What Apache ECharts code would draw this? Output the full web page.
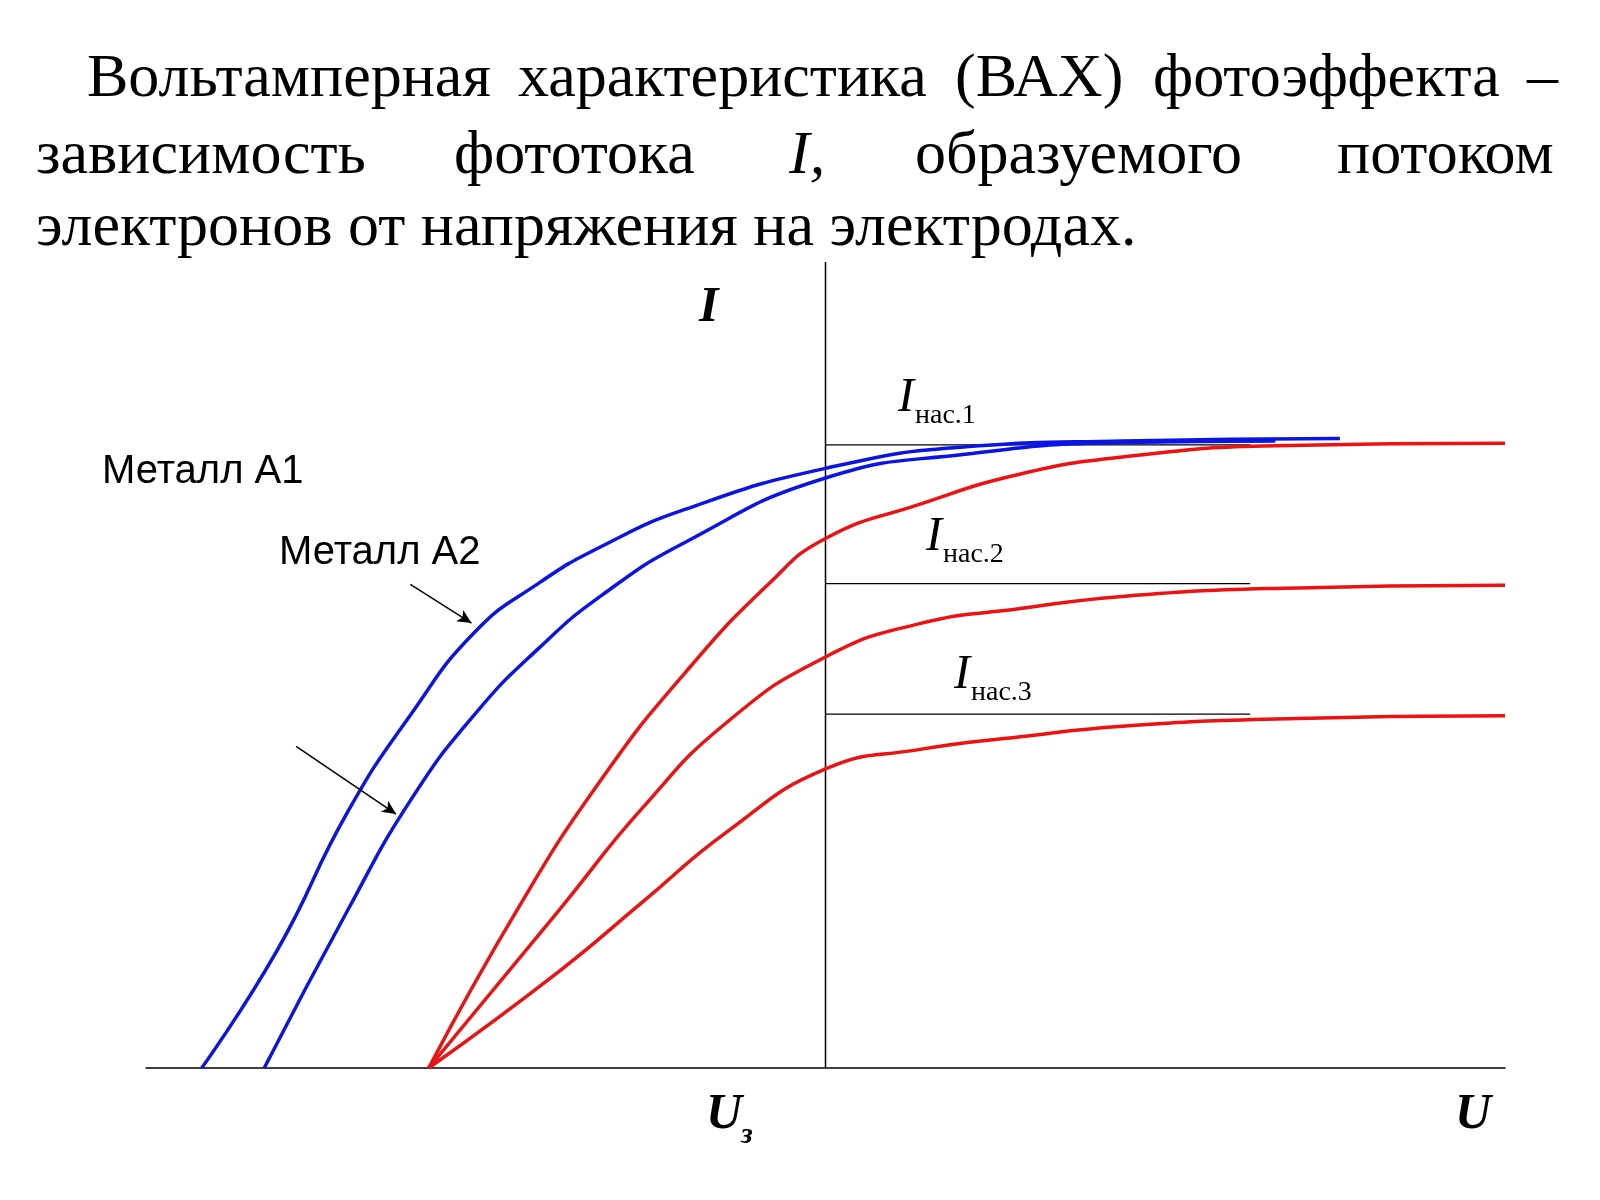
<!DOCTYPE html>
<html><head><meta charset="utf-8">
<script src="https://cdn.jsdelivr.net/npm/echarts@6/dist/echarts.min.js"></script>
<style>html,body{margin:0;background:#fff}#c{width:1600px;height:1200px}</style>
</head><body><div id="c"></div>
<script>
const blueA1 = [[-9.18,0],[-8.07,1.46],[-7.03,3.18],[-6.10,4.39],[-5.16,5.41],[-4.23,6.01],[-3.30,6.47],[-2.07,6.93],[0,7.44],[2.12,7.71],[4.37,7.78],[7.57,7.81]];
const blueA2 = [[-8.26,0],[-7.03,1.96],[-6.10,3.33],[-5.16,4.39],[-4.23,5.20],[-3.30,5.86],[-2.07,6.52],[0,7.32],[2.12,7.62],[4.37,7.76],[6.62,7.78]];
const red1 = [[-5.84,0],[-4.54,1.96],[-3.30,3.58],[-2.07,4.90],[-0.83,6.01],[0,6.57],[1.37,6.99],[2.87,7.37],[4.37,7.58],[6.62,7.72],[10,7.75]];
const red2 = [[-5.84,0],[-3.92,1.96],[-2.69,3.23],[-1.45,4.29],[0,5.10],[1.37,5.51],[2.87,5.70],[4.37,5.85],[6.62,5.95],[10,5.99]];
const red3 = [[-5.84,0],[-3.92,1.20],[-2.69,2.06],[-1.45,2.93],[0,3.71],[1.37,3.95],[2.87,4.11],[4.37,4.24],[6.62,4.33],[10,4.37]];
const satLevels = [7.73, 6.01, 4.39];
const satLabels = ['нас.1','нас.2','нас.3'];
const satEnd = 6.25;
const arrows = [[[-6.11,6.0],[-5.21,5.52]],[[-7.79,3.99],[-6.32,3.15]]];

const chart = echarts.init(document.getElementById('c'));
const curve = (d,c)=>({type:'line',data:d,smooth:0.5,symbol:'none',lineStyle:{color:c,width:3.5},z:3});
const satSeries = satLevels.map(v=>({type:'line',data:[[0,v],[satEnd,v]],symbol:'none',lineStyle:{color:'#000',width:1.2},z:2}));
const arrowSeries = {type:'line',data:[],markLine:{silent:true,symbol:['none','arrow'],symbolSize:[10,14],lineStyle:{color:'#000',width:1.5,type:'solid'},label:{show:false},
  data:arrows.map(a=>[{coord:a[0]},{coord:a[1]}])}};
const F = '62px "Liberation Serif"';
chart.setOption({
  animation:false,
  grid:{left:146,right:95,top:262,bottom:132},
  xAxis:{type:'value',min:-10,max:10,axisLine:{onZero:true,lineStyle:{color:'#000',width:1.5}},axisTick:{show:false},axisLabel:{show:false},splitLine:{show:false}},
  yAxis:{type:'value',min:0,max:10,axisLine:{show:false},axisTick:{show:false},axisLabel:{show:false},splitLine:{show:false}},
  series:[
    {type:'line',data:[[0,0],[0,10]],symbol:'none',lineStyle:{color:'#000',width:1.5}},
    curve(blueA1,'#0a14e6'),curve(blueA2,'#0a14e6'),curve(red1,'#ee1111'),curve(red2,'#ee1111'),curve(red3,'#ee1111'),
    ...satSeries, arrowSeries
  ],
  graphic:[
    ...[['Вольтамперная',87],['характеристика',518],['(ВАХ)',955],['фотоэффекта',1153],['–',1527]].map(w=>({type:'text',left:w[1],top:49,style:{text:w[0],font:F,fill:'#000'}})),
    ...[['зависимость',36],['фототока',454],['образуемого',915],['потоком',1337]].map(w=>({type:'text',left:w[1],top:126,style:{text:w[0],font:F,fill:'#000'}})),
    {type:'text',left:789,top:126,style:{text:'I,',font:'italic '+F,fill:'#000'}},
    {type:'text',left:36,top:198,style:{text:'электронов от напряжения на электродах.',font:F,fill:'#000'}},
    {type:'text',left:699,top:283,style:{text:'I',font:'italic bold 50px "Liberation Serif"',fill:'#000'}},
    {type:'text',left:1455,top:1090,style:{text:'U',font:'italic bold 50px "Liberation Serif"',fill:'#000'}},
    {type:'text',left:706,top:1090,style:{text:'U',font:'italic bold 50px "Liberation Serif"',fill:'#000'}},
    {type:'text',left:741,top:1120,style:{text:'з',font:'italic bold 30px "Liberation Serif"',fill:'#000'}},
    ...[[898,374],[926,513],[954,651]].map((p,i)=>({type:'group',children:[
      {type:'text',left:p[0],top:p[1],style:{text:'I',font:'italic 48px "Liberation Serif"',fill:'#000'}},
      {type:'text',left:p[0]+17,top:p[1]+28,style:{text:satLabels[i],font:'28px "Liberation Serif"',fill:'#000'}}]})),
    {type:'text',left:102,top:452,style:{text:'Металл А1',font:'40px "Liberation Sans"',fill:'#000'}},
    {type:'text',left:279,top:533,style:{text:'Металл А2',font:'40px "Liberation Sans"',fill:'#000'}}
  ]
});
</script></body></html>
